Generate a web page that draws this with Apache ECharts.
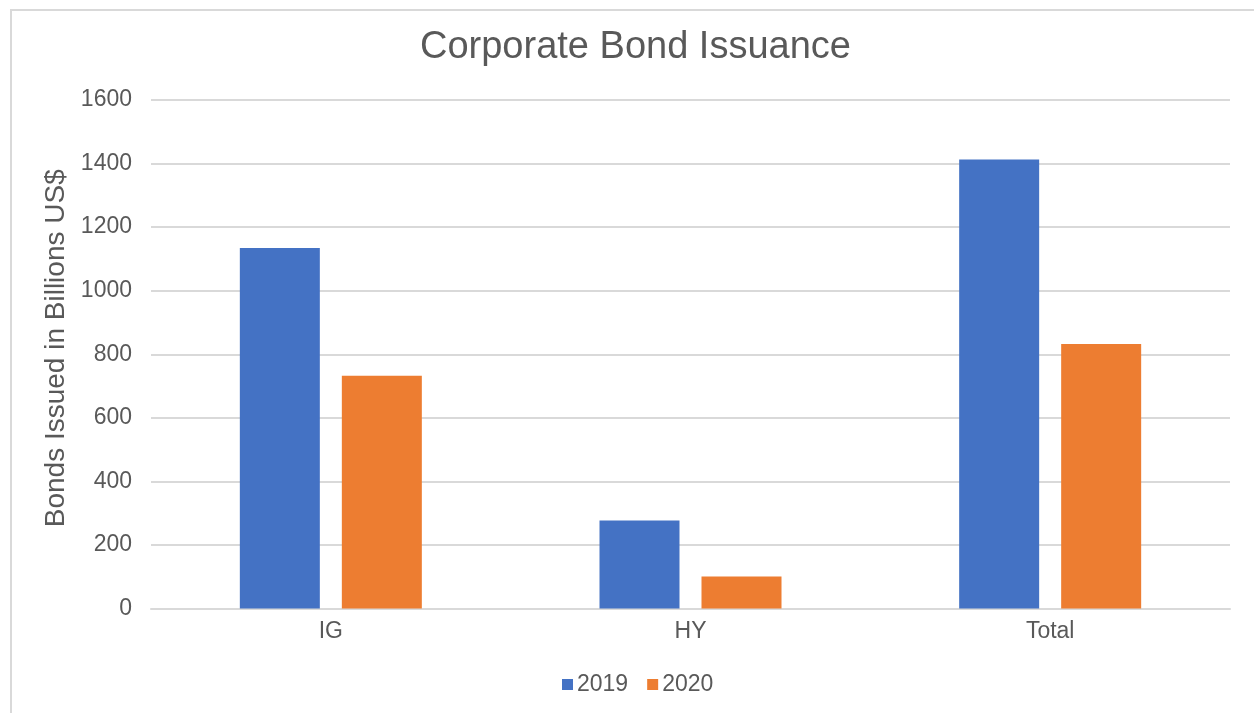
<!DOCTYPE html>
<html>
<head>
<meta charset="utf-8">
<script src="https://cdn.jsdelivr.net/npm/echarts@6/dist/echarts.min.js"></script>
<style>
html,body{margin:0;padding:0;background:#fff;}
#chart{width:1254px;height:713px;}
</style>
</head>
<body>
<div id="chart"></div>
<script>
const categories = ['IG', 'HY', 'Total'];
const seriesNames = ['2019', '2020'];
const values2019 = [1134, 277, 1413];
const values2020 = [732, 101, 832];
const yTicks = { min: 0, max: 1600, interval: 200 };

const font = '"Liberation Sans", Arial, sans-serif';
const textColor = '#595959';
const chart = echarts.init(document.getElementById('chart'));
chart.setOption({
  backgroundColor: '#ffffff',
  animation: false,
  graphic: [{
    type: 'rect',
    shape: { x: 11, y: 10, width: 1400, height: 900 },
    style: { fill: 'none', stroke: '#d9d9d9', lineWidth: 2 },
    silent: true
  }],
  title: {
    text: 'Corporate Bond Issuance',
    left: 415,
    top: 24,
    textStyle: { fontFamily: font, fontSize: 38, fontWeight: 'normal', color: textColor }
  },
  legend: {
    data: seriesNames,
    left: 562,
    top: 673,
    padding: 0,
    itemWidth: 11,
    itemHeight: 11,
    itemGap: 19,
    icon: 'rect',
    textStyle: { fontFamily: font, fontSize: 23, color: textColor, padding: [0, 0, 0, -1] }
  },
  grid: { left: 151, right: 24, top: 100, bottom: 104.5, containLabel: false },
  xAxis: {
    type: 'category',
    data: categories,
    axisLine: { show: true, lineStyle: { color: '#d9d9d9', width: 2 } },
    axisTick: { show: false },
    axisLabel: { fontFamily: font, fontSize: 23, color: textColor, margin: 12 }
  },
  yAxis: {
    type: 'value',
    min: yTicks.min,
    max: yTicks.max,
    interval: yTicks.interval,
    name: 'Bonds Issued in Billions US$',
    nameLocation: 'middle',
    nameGap: 80,
    nameTextStyle: { fontFamily: font, fontSize: 28, color: textColor, padding: [0, 0, 0, 12] },
    axisLine: { show: false },
    axisTick: { show: false },
    axisLabel: { fontFamily: font, fontSize: 23, color: textColor, margin: 19, formatter: v => String(v) },
    splitLine: { lineStyle: { color: '#d9d9d9', width: 2 } }
  },
  series: [
    { name: seriesNames[0], type: 'bar', data: values2019, barWidth: 80, barGap: '27.5%', itemStyle: { color: '#4472C4' } },
    { name: seriesNames[1], type: 'bar', data: values2020, barWidth: 80, barGap: '27.5%', itemStyle: { color: '#ED7D31' } }
  ]
});
</script>
</body>
</html>
